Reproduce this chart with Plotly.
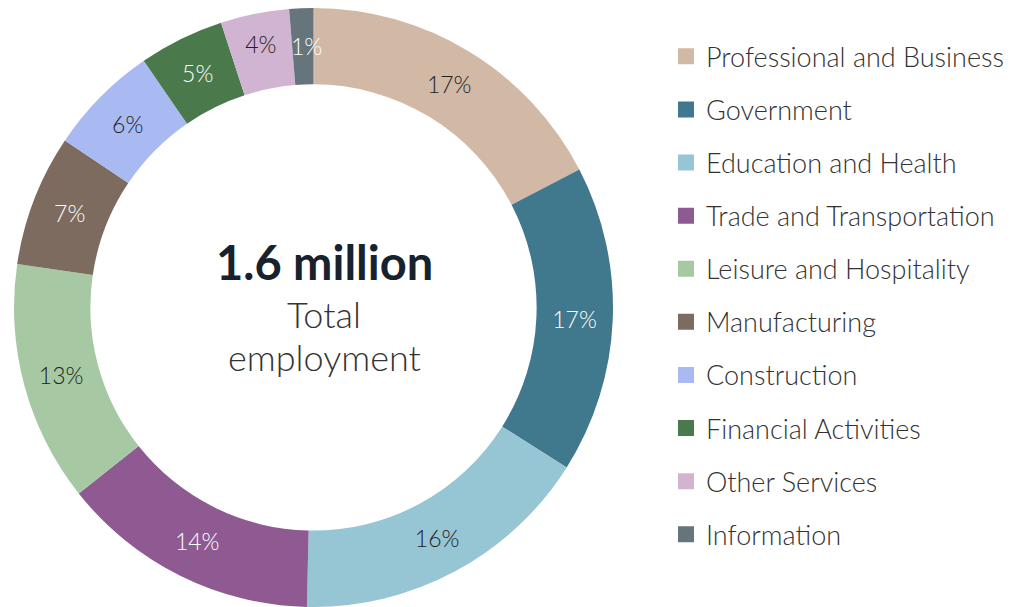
import math
import plotly.graph_objects as go

labels = ["Professional and Business", "Government", "Education and Health",
          "Trade and Transportation", "Leisure and Hospitality", "Manufacturing",
          "Construction", "Financial Activities", "Other Services", "Information"]
values = [17.4, 16.6, 16.4, 14.0, 13.0, 7.1, 6.0, 4.6, 3.7, 1.3]
colors = ["#d2b9a6", "#40788e", "#96c5d4", "#8f5a91", "#a6c9a3", "#7d6b5f",
          "#a9baf2", "#4a7a4b", "#d0b4d2", "#65757b"]
text_colors = ["#222222", "#ffffff", "#222222", "#ffffff", "#222222", "#ffffff",
               "#222222", "#ffffff", "#222222", "#ffffff"]
center_value = "1.6 million"
center_lines = ["Total", "employment"]

FONT = "Source Sans Pro, Lato, sans-serif"
W, H = 1017, 607
HOLE = 0.745
DOM_X = [6 / W, 605 / W]
DOM_Y = [0.0132, 1.0]

# the narrowest slice's label is placed by hand at the ring's middle (it overflows the slice)
templates = ["%{percent:.0%}"] * (len(values) - 1) + [""]

fig = go.Figure()
fig.add_trace(go.Pie(
    labels=labels, values=values, sort=False, direction="clockwise", rotation=0,
    hole=HOLE, domain=dict(x=DOM_X, y=DOM_Y),
    marker=dict(colors=colors, line=dict(width=0)),
    texttemplate=templates, textposition="inside",
    insidetextorientation="horizontal",
    insidetextfont=dict(family=FONT, size=23, color=text_colors, weight=300),
    showlegend=False, hoverinfo="label+percent",
))

total = sum(values)
cx = (DOM_X[0] + DOM_X[1]) / 2 * W
cy = (1 - (DOM_Y[0] + DOM_Y[1]) / 2) * H
R = min((DOM_X[1] - DOM_X[0]) * W, (DOM_Y[1] - DOM_Y[0]) * H) / 2
r_mid = R * (1 + HOLE) / 2
frac = (sum(values[:-1]) + values[-1] / 2) / total
theta = 2 * math.pi * frac
lx = cx + r_mid * math.sin(theta)
ly = cy - r_mid * math.cos(theta)
fig.add_annotation(x=(lx + 4) / W, y=1 - ly / H, xref="paper", yref="paper",
                   xanchor="center", yanchor="middle", showarrow=False,
                   text=f"{round(values[-1] / total * 100)}%",
                   font=dict(family=FONT, size=23, color=text_colors[-1], weight=300))

for lab, col in zip(labels, colors):
    fig.add_trace(go.Scatter(
        x=[None], y=[None], mode="markers", name=lab, legendgroup=lab,
        marker=dict(symbol="square", size=16, color=col), showlegend=True,
    ))

fig.add_annotation(x=316 / W, y=1 - 254 / H, xref="paper", yref="paper",
                   xanchor="center", yanchor="middle",
                   text="<b>" + center_value + "</b>", showarrow=False,
                   font=dict(family=FONT, size=47, color="#17222e"))
for i, line in enumerate(center_lines):
    fig.add_annotation(x=316 / W, y=1 - (306 + 43 * i) / H,
                       xref="paper", yref="paper", xanchor="center", yanchor="middle",
                       text=line, showarrow=False,
                       font=dict(family=FONT, size=36, color="#333333", weight=300))

fig.update_layout(
    width=W, height=H, margin=dict(l=0, r=0, t=0, b=0),
    paper_bgcolor="white", plot_bgcolor="white",
    xaxis=dict(visible=False), yaxis=dict(visible=False),
    uniformtext=dict(mode="show", minsize=23),
    legend=dict(x=0.647, y=0.960, xanchor="left", yanchor="top",
                tracegroupgap=15.0, font=dict(family=FONT, size=27, color="#333333", weight=300)),
)
fig.write_html("out.html")
